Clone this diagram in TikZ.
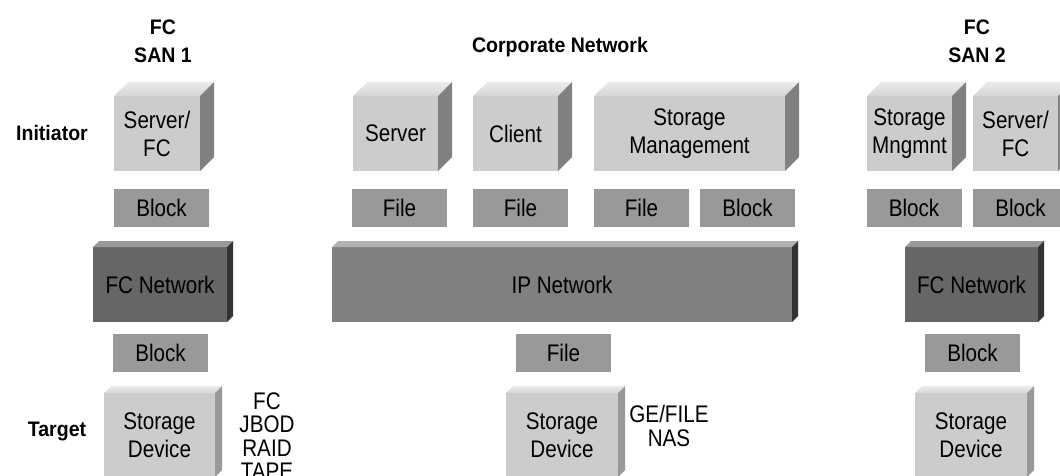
\documentclass[tikz,border=0pt]{standalone}
\usepackage{fontspec}
\setmainfont[FakeStretch=0.86]{Liberation Sans}
\newfontfamily\headfont[FakeStretch=0.93]{Liberation Sans}
\usetikzlibrary{calc}

\definecolor{unitfront}{HTML}{CCCCCC}
\definecolor{unittopback}{HTML}{EBEBEB}
\definecolor{unittopfront}{HTML}{D6D6D6}
\definecolor{unitside}{HTML}{808080}
\definecolor{storeside}{HTML}{999999}
\definecolor{tagfill}{HTML}{999999}
\definecolor{fcfront}{HTML}{666666}
\definecolor{fctop}{HTML}{999999}
\definecolor{fcside}{HTML}{333333}
\definecolor{ipfront}{HTML}{808080}
\definecolor{iptop}{HTML}{B2B2B2}
\definecolor{ipside}{HTML}{333333}

% top and right faces of an extruded box, attached to the front-face node #1
\newcommand\drawprism[4]{%
  \path[#3] (#1.north west) -- ++(#2,-#2) -- ($(#1.north east)+(#2,-#2)$)
            -- (#1.north east) -- cycle;
  \path[#4] (#1.north east) -- ++(#2,-#2) -- ($(#1.south east)+(#2,-#2)$)
            -- (#1.south east) -- cycle;}

\tikzset{
  every node/.style={font=\fontsize{24}{28}\selectfont, inner sep=0pt, outer sep=0pt},
  face/.style={draw=none, align=center},
  unit/.style={face, fill=unitfront, minimum height=75pt},
  store/.style={face, fill=unitfront, minimum height=84pt},
  tag/.style={face, fill=tagfill, minimum width=95pt, minimum height=38pt},
  fcnet/.style={face, fill=fcfront, minimum height=75pt},
  ipnet/.style={face, fill=ipfront, minimum height=75pt},
  unittop/.style={top color=unittopback, bottom color=unittopfront},
  unitsidef/.style={fill=unitside},
  storesidef/.style={fill=storeside},
  fctopf/.style={fill=fctop},
  fcsidef/.style={fill=fcside},
  iptopf/.style={fill=iptop},
  ipsidef/.style={fill=ipside},
  heading/.style={font=\headfont\bfseries\fontsize{21}{28}\selectfont, align=center},
  stack/.style={font=\fontsize{24}{23.5}\selectfont, align=center},
}

\begin{document}
\begin{tikzpicture}[x=1pt, y=-1pt]
\useasboundingbox (0,0) rectangle (1060,476);
\clip (0,0) rectangle (1060,476);

% headings and row labels
\node[heading] (sanA) at (163,41) {FC\\SAN 1};
\node[heading] (corp) at (560,47) {Corporate Network};
\node[heading] (sanC) at (977,41) {FC\\SAN 2};
\node[heading] (init) at (52,133) {Initiator};
\node[heading] (targ) at (57,431) {Target};

% initiators
\node[unit, minimum width=86pt] (srvA) at (157,133.5) {Server/\\FC};
\node[unit, minimum width=85pt] (srvB) at (395.5,133.5) {Server};
\node[unit, minimum width=85pt] (cli)  at (515.5,133.5) {Client};
\node[unit, minimum width=191pt] (stm) at (689.5,133.5) {Storage\\Management};
\node[unit, minimum width=85pt] (mng)  at (909.5,133.5) {Storage\\Mngmnt};
\node[unit, minimum width=85pt] (srvC) at (1015.5,133.5) {Server/\\FC};
\foreach \n in {srvA,srvB,cli,stm,mng,srvC}
  {\drawprism{\n}{14}{unittop}{unitsidef}}

% access protocol tags
\node[tag] (blkA) at (161.5,208) {Block};
\node[tag] (filB) at (399.5,208) {File};
\node[tag] (filC) at (520.5,208) {File};
\node[tag] (filD) at (641.5,208) {File};
\node[tag] (blkD) at (747.5,208) {Block};
\node[tag] (blkE) at (914,208) {Block};
\node[tag] (blkF) at (1020.5,208) {Block};

% networks
\node[fcnet, minimum width=134pt] (fcnA) at (160,284.5) {FC Network};
\node[ipnet, minimum width=460pt] (ipn)  at (562,284.5) {IP Network};
\node[fcnet, minimum width=133pt] (fcnC) at (971.5,284.5) {FC Network};
\drawprism{fcnA}{6}{fctopf}{fcsidef}
\drawprism{ipn}{6}{iptopf}{ipsidef}
\drawprism{fcnC}{6}{fctopf}{fcsidef}

% target protocol tags
\node[tag] (blkG) at (160.5,353) {Block};
\node[tag] (filH) at (563.5,353) {File};
\node[tag] (blkI) at (972.5,353) {Block};

% targets
\node[store, minimum width=111pt] (stoA) at (159.5,435) {Storage\\Device};
\node[store, minimum width=112pt] (stoB) at (562,435) {Storage\\Device};
\node[store, minimum width=112pt] (stoC) at (971,435) {Storage\\Device};
\foreach \n in {stoA,stoB,stoC}
  {\drawprism{\n}{7}{unittop}{storesidef}}

\node[stack] (kindA) at (267,436) {FC\\JBOD\\RAID\\TAPE};
\node[stack] (kindB) at (669,426) {GE/FILE\\NAS};
\end{tikzpicture}
\end{document}
